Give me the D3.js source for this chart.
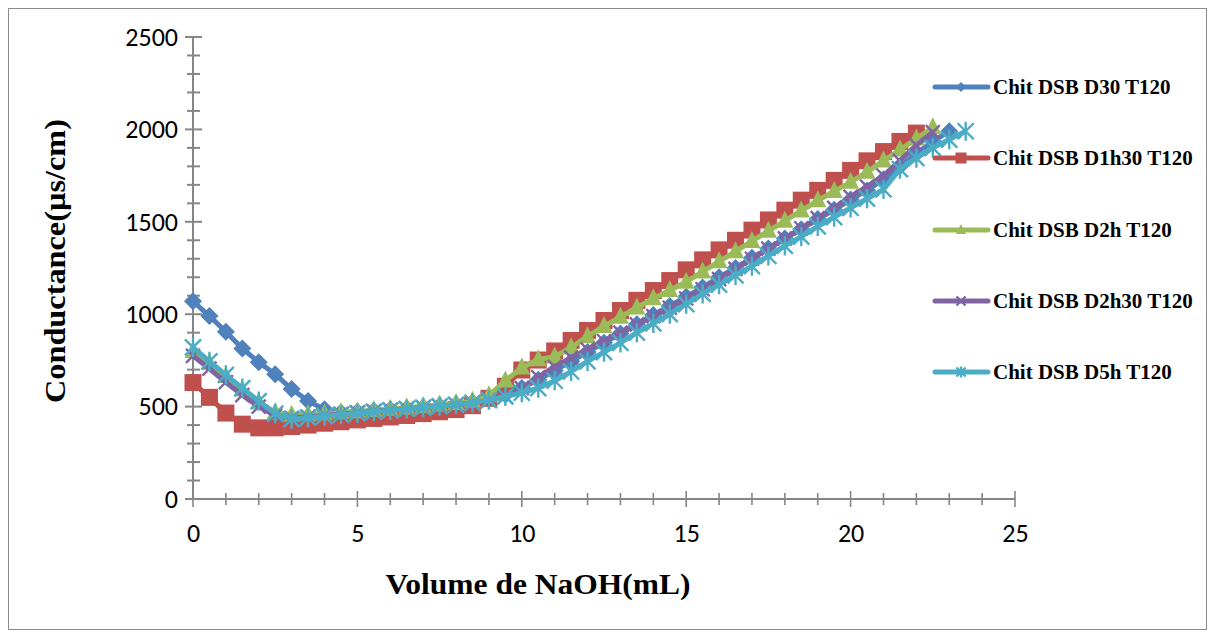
<!DOCTYPE html>
<html><head><meta charset="utf-8">
<script src="https://cdn.jsdelivr.net/npm/d3@7"></script>
<style>body{margin:0;background:#fff}svg{display:block}</style>
</head><body>
<svg id="c" width="1215" height="637"></svg>
<script>
const seriesNames = ["Chit DSB D30 T120","Chit DSB D1h30 T120","Chit DSB D2h T120","Chit DSB D2h30 T120","Chit DSB D5h T120"];
const xStep = 0.5;
const d30 = [1070,990,905,815,740,675,595,530,485,468,472,478,484,490,497,504,512,522,540,565,600,645,695,745,795,845,895,945,995,1045,1095,1145,1200,1250,1305,1355,1410,1460,1515,1565,1620,1670,1730,1800,1870,1935,1990];
const d1h30 = [630,550,465,405,385,385,392,400,410,418,428,436,444,452,462,472,484,505,545,610,698,752,801,858,912,966,1020,1075,1128,1182,1240,1294,1348,1400,1455,1510,1563,1617,1670,1724,1778,1830,1880,1935,1980];
const d2h = [800,735,665,592,522,470,455,458,462,468,474,480,487,494,502,510,518,530,560,640,710,755,770,820,880,935,985,1035,1085,1130,1175,1230,1285,1340,1395,1450,1505,1560,1615,1665,1715,1770,1830,1890,1950,2010];
const d2h30 = [775,705,632,562,500,452,438,445,452,460,467,474,481,488,495,502,510,520,535,555,600,660,715,765,810,855,900,945,990,1035,1085,1135,1190,1245,1300,1355,1410,1465,1520,1575,1635,1690,1750,1830,1915,1985];
const d5h = [820,745,672,600,530,462,432,440,448,456,464,472,480,487,494,502,510,520,535,555,575,600,640,690,745,795,845,900,950,1000,1055,1110,1160,1210,1260,1315,1370,1420,1475,1525,1575,1625,1675,1785,1845,1900,1945,1990];
const xTicks = [0,5,10,15,20,25];
const yTicks = [0,500,1000,1500,2000,2500];

const colors = ["#4F81BD","#C0504D","#9BBB59","#8064A2","#4BACC6"];
const shapes = ["diamond","square","triangle","x","star"];
const allSeries = [d30,d1h30,d2h,d2h30,d5h];

const svg = d3.select("#c");
svg.append("rect").attr("x",8.5).attr("y",8.5).attr("width",1198).attr("height",621)
  .attr("fill","#fff").attr("stroke","#8c8c8c").attr("stroke-width",1);

const x = d3.scaleLinear().domain([0,25]).range([193,1015]);
const y = d3.scaleLinear().domain([0,2500]).range([499,37]);
const axisColor = "#868686";
const g = svg.append("g");

d3.range(0,2501,100).forEach(v=>{
  const major = v%500===0;
  g.append("line").attr("x1",major?185:187).attr("x2",major?202:200)
    .attr("y1",y(v)).attr("y2",y(v)).attr("stroke",axisColor).attr("stroke-width",2);
});
d3.range(0,26,1).forEach(v=>{
  const major = v%5===0;
  g.append("line").attr("y1",major?491:493).attr("y2",major?507:505)
    .attr("x1",x(v)).attr("x2",x(v)).attr("stroke",axisColor).attr("stroke-width",1.6);
});
g.append("line").attr("x1",193).attr("x2",193).attr("y1",y(2500)).attr("y2",y(0)).attr("stroke",axisColor).attr("stroke-width",2);
g.append("line").attr("x1",193).attr("x2",x(25)).attr("y1",y(0)).attr("y2",y(0)).attr("stroke",axisColor).attr("stroke-width",2);

const tickFont = "Carlito, Liberation Sans, Arial, sans-serif";
const yAxis = svg.append("g").attr("transform","translate(178,0)")
  .call(d3.axisLeft(y).tickValues(yTicks).tickFormat(d3.format("d")).tickSize(0).tickPadding(0));
yAxis.select(".domain").remove();
yAxis.selectAll("text").attr("font-family",tickFont).attr("font-size",26).attr("fill","#000");
const xAxis = svg.append("g").attr("transform","translate(0,524)")
  .call(d3.axisBottom(x).tickValues(xTicks).tickFormat(d3.format("d")).tickSize(0).tickPadding(0));
xAxis.select(".domain").remove();
xAxis.selectAll("text").attr("font-family",tickFont).attr("font-size",26).attr("fill","#000");

svg.append("text").attr("x",538).attr("y",594).attr("text-anchor","middle")
  .attr("font-family","Liberation Serif, Times New Roman, serif").attr("font-weight","bold").attr("font-size",30)
  .attr("textLength",305).attr("lengthAdjust","spacingAndGlyphs")
  .text("Volume de NaOH(mL)");
svg.append("text").attr("transform","translate(65,261) rotate(-90)").attr("text-anchor","middle")
  .attr("font-family","Liberation Serif, Times New Roman, serif").attr("font-weight","bold").attr("font-size",30)
  .attr("textLength",284).attr("lengthAdjust","spacingAndGlyphs")
  .text("Conductance(µs/cm)");

function marker(sel, shape, color, s){
  if(shape==="diamond"){
    sel.append("path").attr("d",`M0,${-s/2}L${s/2},0L0,${s/2}L${-s/2},0Z`).attr("fill",color);
  } else if(shape==="square"){
    sel.append("rect").attr("x",-s/2).attr("y",-s/2).attr("width",s).attr("height",s).attr("fill",color);
  } else if(shape==="triangle"){
    sel.append("path").attr("d",`M0,${-s*0.6}L${s/2},${s*0.4}L${-s/2},${s*0.4}Z`).attr("fill",color);
  } else if(shape==="x"){
    const h=s/2;
    sel.append("path").attr("d",`M${-h},${-h}L${h},${h}M${-h},${h}L${h},${-h}`).attr("stroke",color).attr("stroke-width",2.4);
  } else {
    const h=s/2;
    sel.append("path").attr("d",`M${-h},${-h}L${h},${h}M${-h},${h}L${h},${-h}M0,${-h*1.2}L0,${h*1.2}`).attr("stroke",color).attr("stroke-width",2.4);
  }
}
const sizes = [18,17,17,14,16];

const line = d3.line().x(d=>x(d[0])).y(d=>y(d[1]));
allSeries.forEach((vals,i)=>{
  const pts = vals.map((v,j)=>[j*xStep,v]);
  const sg = svg.append("g");
  sg.append("path").attr("d",line(pts)).attr("fill","none").attr("stroke",colors[i]).attr("stroke-width",5).attr("stroke-linejoin","round");
  pts.forEach(p=>{
    const m = sg.append("g").attr("transform",`translate(${x(p[0])},${y(p[1])})`);
    marker(m, shapes[i], colors[i], sizes[i]);
  });
});

const legY = [87,158,230,301,372];
seriesNames.forEach((n,i)=>{
  const lg = svg.append("g").attr("transform",`translate(0,${legY[i]})`);
  lg.append("line").attr("x1",935).attr("x2",988).attr("y1",0).attr("y2",0).attr("stroke",colors[i]).attr("stroke-width",5).attr("stroke-linecap","round");
  const m = lg.append("g").attr("transform","translate(961,0)");
  marker(m, shapes[i], colors[i], [10,11,10,9,9][i]);
  lg.append("text").attr("x",993).attr("y",7).attr("font-family","Liberation Serif, Times New Roman, serif")
    .attr("font-weight","bold").attr("font-size",21).attr("fill","#000").text(n);
});
</script>
</body></html>
